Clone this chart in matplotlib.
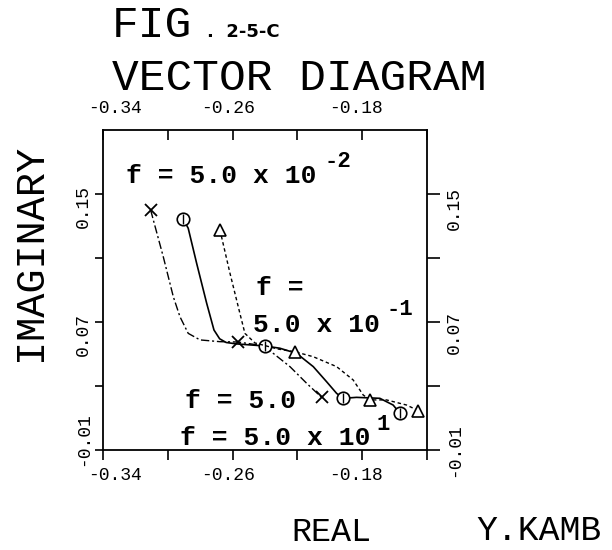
import matplotlib
matplotlib.use("Agg")
import matplotlib.pyplot as plt
import matplotlib.transforms as mtransforms

# valori (parte reale, parte immaginaria)
# serie "x" (tratto-punto)
x_mark_re = [-0.3106, -0.2567, -0.2051]
x_mark_im = [0.1400, 0.0575, 0.0229]
x_path_re = [-0.3106, -0.3028, -0.2966, -0.2925, -0.2874, -0.2801, -0.2678,
             -0.2567, -0.2400, -0.2349, -0.2246, -0.2143, -0.2051]
x_path_im = [0.1400, 0.1108, 0.0858, 0.0733, 0.0629, 0.0588, 0.0577,
             0.0575, 0.0550, 0.0504, 0.0421, 0.0317, 0.0229]

# serie cerchi (linea continua)
o_mark_re = [-0.2904, -0.2400, -0.1917, -0.1567]
o_mark_im = [0.1342, 0.0550, 0.0223, 0.0129]
o_path_re = [-0.2904, -0.2874, -0.2822, -0.2760, -0.2715, -0.2680, -0.2640,
             -0.2575, -0.2400, -0.2308, -0.2205, -0.2102, -0.2020, -0.1958,
             -0.1917, -0.1835, -0.1691, -0.1609, -0.1567]
o_path_im = [0.1342, 0.1286, 0.1067, 0.0817, 0.0650, 0.0595, 0.0572,
             0.0563, 0.0550, 0.0536, 0.0504, 0.0421, 0.0327, 0.0254,
             0.0223, 0.0229, 0.0223, 0.0181, 0.0129]

# serie triangoli (tratteggiata)
t_mark_re = [-0.2678, -0.2215, -0.1752, -0.1454]
t_mark_im = [0.1275, 0.0514, 0.0213, 0.0146]
t_path_re = [-0.2678, -0.2616, -0.2555, -0.2524, -0.2462, -0.2320, -0.2215,
             -0.2102, -0.1958, -0.1856, -0.1794, -0.1752, -0.1650, -0.1526,
             -0.1454]
t_path_im = [0.1275, 0.1004, 0.0754, 0.0629, 0.0569, 0.0531, 0.0514,
             0.0483, 0.0421, 0.0338, 0.0244, 0.0213, 0.0213, 0.0181,
             0.0146]

x_ticks = [-0.34, -0.30, -0.26, -0.22, -0.18, -0.14]
x_labels = ["-0.34", "", "-0.26", "", "-0.18", ""]
y_ticks = [-0.01, 0.03, 0.07, 0.11, 0.15]
y_labels = ["-0.01", "", "0.07", "", "0.15"]

W, H = 612, 550
mono = "Liberation Mono"


def px(x, y):
    return x / W, 1 - y / H


def sposta(lab, dx, dy):
    # spostamento in pixel (a 100 dpi)
    lab.set_transform(lab.get_transform() +
                      mtransforms.ScaledTranslation(dx / 100, dy / 100, fig.dpi_scale_trans))


fig = plt.figure(figsize=(W / 100, H / 100), dpi=100)
ax = fig.add_axes([103 / W, 1 - 450 / H, 324 / W, 320 / H])

ax.plot(x_path_re, x_path_im, color="black", lw=1.0, linestyle=(0, (6, 2, 1.5, 2)))
ax.plot(x_mark_re, x_mark_im, "x", color="black", ms=9, mew=1.3)

ax.plot(o_path_re, o_path_im, color="black", lw=1.2)
ax.plot(o_mark_re, o_mark_im, "o", color="black", mfc="white", ms=9, mew=1.2)
ax.plot(o_mark_re, o_mark_im, "|", color="black", ms=7, mew=1.0)

ax.plot(t_path_re, t_path_im, color="black", lw=1.0, linestyle=(0, (2.5, 2)))
ax.plot(t_mark_re, t_mark_im, "^", color="black", mfc="white", ms=8, mew=1.2)

ax.set_xlim(-0.34, -0.14)
ax.set_ylim(-0.01, 0.19)

ax.set_xticks(x_ticks)
ax.set_xticklabels(x_labels)
ax.set_yticks(y_ticks)
ax.set_yticklabels(y_labels)
ax.tick_params(axis="x", bottom=True, top=True, labelbottom=True, labeltop=True,
               direction="out", length=7, width=1.2, pad=5, labelsize=13)
ax.tick_params(axis="y", left=True, right=True, labelleft=True, labelright=True,
               direction="out", length=6, width=1.2, pad=2, labelsize=13,
               labelrotation=90)

for s in ax.spines.values():
    s.set_linewidth(1.3)

# etichette: posizione come nell'originale
x_off = [12, 0, -5, 0, -6, 0]
for i, t in enumerate(ax.xaxis.get_major_ticks()):
    t.tick2line.set_marker(3)  # tacche verso l'interno in alto
    t.tick2line.set_markersize(7)
    for lab in (t.label1, t.label2):
        lab.set_fontfamily(mono)
        sposta(lab, x_off[i], 0)
    sposta(t.label2, 0, -4)

left_dy = [11, 0, -13, 0, -13]
right_dy = [0, 0, -10, 0, -15]
for i, t in enumerate(ax.yaxis.get_major_ticks()):
    t.tick2line.set_markersize(9)
    t.label1.set_fontfamily(mono)
    t.label2.set_fontfamily(mono)
    t.label1.set_verticalalignment("center")
    t.label2.set_verticalalignment("center")
    sposta(t.label1, 0, left_dy[i])
    sposta(t.label2, 8, right_dy[i])

# annotazioni delle frequenze
ann = dict(family=mono, fontweight="bold", fontsize=19, va="baseline", ha="left")
sup = dict(family=mono, fontweight="bold", fontsize=16, va="baseline", ha="left")
fig.text(*px(126, 183), "f = 5.0 x 10", **ann)
fig.text(*px(325, 167), "-2", **sup)
fig.text(*px(256, 295), "f =", **ann)
fig.text(*px(253, 332), "5.0 x 10", **ann)
fig.text(*px(386, 315), "-1", **sup)
fig.text(*px(185, 408), "f = 5.0", **ann)
fig.text(*px(180, 445), "f = 5.0 x 10", **ann)
fig.text(*px(376, 430), "1", **sup)

# titoli
fig.text(*px(112, 37), "FIG", family=mono, fontsize=32, va="baseline")
fig.text(*px(207, 37), ".  2-5-C", family="DejaVu Sans", fontweight="bold",
         fontsize=13, va="baseline")
fig.text(*px(112, 90), "VECTOR DIAGRAM", family=mono, fontsize=32, va="baseline")
fig.text(*px(30, 252), "IMAGINARY", family=mono, fontsize=29, rotation=90,
         ha="center", va="center")
fig.text(*px(291, 541), "REAL", family=mono, fontsize=24, va="baseline")
fig.text(*px(476, 540), "Y.KAMB", family=mono, fontsize=25, va="baseline")

fig.savefig("out.png", dpi=100)
